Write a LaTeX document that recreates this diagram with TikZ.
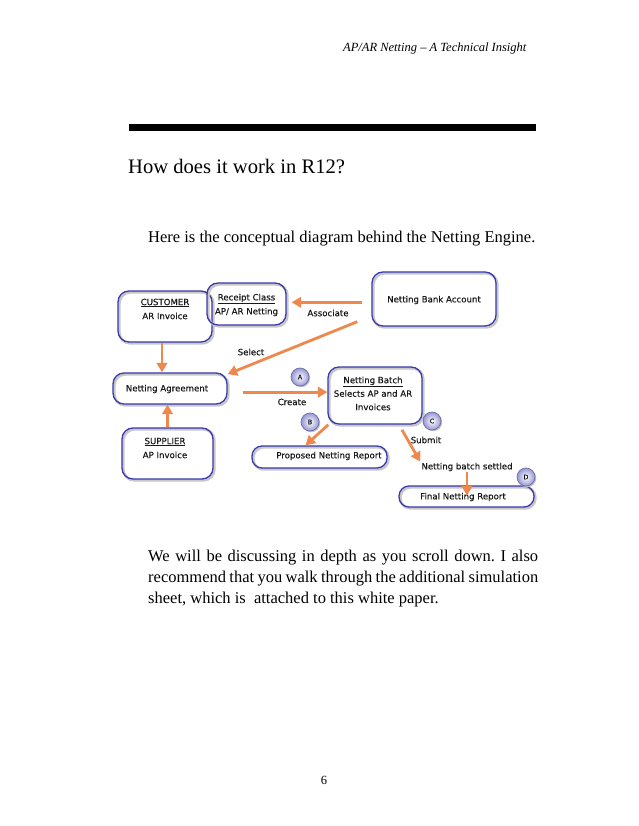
\documentclass[tikz,border=0pt]{standalone}
\usepackage{fontspec}
\setmainfont{Liberation Serif}
\newfontfamily\dgfont[FakeBold=0.35]{DejaVu Sans}
\usetikzlibrary{arrows.meta}
\definecolor{boxblue}{RGB}{58,58,172}
\definecolor{arrorange}{RGB}{238,136,76}
\definecolor{badgefill}{RGB}{150,150,212}
\definecolor{badgeedge}{RGB}{110,110,170}
\definecolor{dgtext}{RGB}{25,25,25}
\frenchspacing
\begin{document}
\begin{tikzpicture}[x=1pt,y=-1pt,
  box/.style={draw=boxblue, line width=1.3pt, rounded corners=11pt, inner sep=0pt,
    preaction={draw=black!22, line width=2.6pt, transform canvas={shift={(1.4pt,-1.4pt)}}}},
  txt/.style={font=\dgfont\fontsize{8.6}{14}\selectfont, text=dgtext, align=center, inner sep=1pt},
  arr/.style={draw=arrorange, line width=2.8pt, -{Triangle[length=9.5pt,width=10.5pt]}},
  badge/.style={circle, draw=badgeedge, line width=0.7pt, inner color=white, outer color=badgefill,
    minimum size=18pt, inner sep=0pt, font=\dgfont\fontsize{6.3}{7}\selectfont, text=dgtext,
    preaction={fill=black!25, transform canvas={shift={(1.2pt,-1.2pt)}}}}
]
\fill[white] (0,0) rectangle (638,826);
\useasboundingbox (0,0) rectangle (638,826);

% page furniture
\node[anchor=base west, inner sep=0pt, font=\itshape\fontsize{12.5}{14}\selectfont] (hdr) at (343,52) {AP/AR Netting -- A Technical Insight};
\fill[black] (129,124.5) rectangle (536,131);
\node[anchor=base west, inner sep=0pt, font=\fontsize{20.6}{24}\selectfont] (ttl) at (128,174) {How does it work in R12?};
\node[anchor=base west, inner sep=0pt, font=\fontsize{16.5}{21}\selectfont] (intro) at (148,242) {Here is the conceptual diagram behind the Netting Engine.};
\node[anchor=base west, inner sep=0pt, text width=390pt, align=justify, font=\fontsize{16.5}{21}\selectfont] (para) at (148,561)
  {We will be discussing in depth as you scroll down. I also\linebreak recommend that you walk through the additional simulation\linebreak sheet, which is\ \ attached to this white paper.};
\node[anchor=base, inner sep=0pt, font=\fontsize{12.5}{14}\selectfont] (pg) at (324,784) {6};

% boxes
\node[box, minimum width=94pt, minimum height=51pt] (cust) at (165,316.5) {};
\node[txt] (custT) at (165,309) {\underline{CUSTOMER}\\AR Invoice};
\node[box, minimum width=79pt, minimum height=42pt] (rcpt) at (246.5,304) {};
\node[txt] (rcptT) at (246.5,305) {\underline{Receipt Class}\\AP/ AR Netting};
\node[box, minimum width=124pt, minimum height=54pt] (bank) at (434,299) {};
\node[txt] (bankT) at (434,300) {Netting Bank Account};
\node[box, minimum width=114pt, minimum height=31pt] (agree) at (170,388.5) {};
\node[txt] (agreeT) at (167,389) {Netting Agreement};
\node[box, minimum width=91pt, minimum height=51pt] (sup) at (167.5,453.5) {};
\node[txt] (supT) at (165,448) {\underline{SUPPLIER}\\AP Invoice};
\node[box, minimum width=94pt, minimum height=57pt] (batch) at (375,395.5) {};
\node[txt, font=\dgfont\fontsize{8.6}{13.5}\selectfont] (batchT) at (373,393.5) {\underline{Netting Batch}\\Selects AP and AR\\Invoices};
\node[box, minimum width=135pt, minimum height=22pt, rounded corners=10pt] (prop) at (319.5,457) {};
\node[txt] (propT) at (329,456) {Proposed Netting Report};
\node[box, minimum width=135pt, minimum height=21pt, rounded corners=10pt] (final) at (466.5,496.5) {};
\node[txt] (finalT) at (463,497) {Final Netting Report};

% free labels
\node[txt] (settled) at (467,467) {Netting batch settled};
\node[txt] (submit) at (426,440) {Submit};
\node[txt] (create) at (292,402) {Create};
\node[txt] (select) at (251,352) {Select};
\node[txt] (assoc) at (328,313) {Associate};

% badges
\node[badge] (bA) at (300,377) {A};
\node[badge] (bB) at (310,422) {B};
\node[badge] (bC) at (432,421) {C};
\node[badge] (bD) at (526,477) {D};

% connectors
\draw[arr, shorten <=9pt, shorten >=5pt] (bank.183) -- (bank.183 -| rcpt.east);
\draw[arr] ([xshift=-14pt,yshift=5pt]bank.south west) -- (agree.14);
\draw[arr] ([xshift=-3pt]cust.south) -- ([xshift=-3pt]cust.south |- agree.north);
\draw[arr] (sup.north) -- (sup.north |- agree.south);
\draw[arr, shorten <=15pt] (batch.176 -| agree.east) -- (batch.176);
\draw[arr] ([xshift=1pt]batch.south west) -- ([xshift=-14pt]prop.north);
\draw[arr, shorten <=6pt] ([xshift=24pt]batch.south) -- (settled.north west);
\draw[arr, shorten >=1pt] (settled.south) -- (settled.south |- final.center);
\end{tikzpicture}
\end{document}
